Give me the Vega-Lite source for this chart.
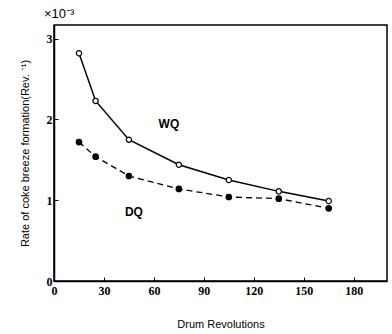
{
  "$schema": "https://vega.github.io/schema/vega-lite/v6.json",
  "autosize": "none",
  "width": 333,
  "height": 256,
  "padding": {"left": 54, "top": 25, "right": 5, "bottom": 53},
  "background": "white",
  "config": {
    "view": {"stroke": "black", "strokeWidth": 1.5},
    "axis": {"domainColor": "black", "domainWidth": 1.5, "tickColor": "black", "labelColor": "black", "titleColor": "black", "grid": false}
  },
  "title": {"text": "×10⁻³", "anchor": "start", "frame": "group", "dx": -10, "offset": 4, "fontSize": 13, "font": "Liberation Sans", "fontWeight": "normal", "color": "black"},
  "data": {"values": [
    {"rev": 15, "rate": 2.82, "series": "WQ"},
    {"rev": 25, "rate": 2.23, "series": "WQ"},
    {"rev": 45, "rate": 1.75, "series": "WQ"},
    {"rev": 75, "rate": 1.44, "series": "WQ"},
    {"rev": 105, "rate": 1.25, "series": "WQ"},
    {"rev": 135, "rate": 1.11, "series": "WQ"},
    {"rev": 165, "rate": 0.99, "series": "WQ"},
    {"rev": 15, "rate": 1.72, "series": "DQ"},
    {"rev": 25, "rate": 1.54, "series": "DQ"},
    {"rev": 45, "rate": 1.30, "series": "DQ"},
    {"rev": 75, "rate": 1.14, "series": "DQ"},
    {"rev": 105, "rate": 1.04, "series": "DQ"},
    {"rev": 135, "rate": 1.02, "series": "DQ"},
    {"rev": 165, "rate": 0.90, "series": "DQ"}
  ]},
  "encoding": {
    "x": {"field": "rev", "type": "quantitative", "scale": {"domain": [0, 200], "nice": false},
      "axis": {"values": [0, 30, 60, 90, 120, 150, 180], "title": "Drum  Revolutions", "titleFont": "Liberation Sans", "titleFontSize": 11, "titleFontWeight": "normal", "titlePadding": 22, "labelFont": "Liberation Serif", "labelFontWeight": "bold", "labelFontSize": 12, "labelPadding": 8, "tickSize": -4, "labelFlush": false}},
    "y": {"field": "rate", "type": "quantitative", "scale": {"domain": [0, 3.17], "nice": false},
      "axis": {"values": [0, 1, 2, 3], "title": "Rate  of  coke  breeze  formation(Rev. ⁻¹)", "titleFont": "Liberation Sans", "titleFontSize": 11, "titleFontWeight": "normal", "titlePadding": 16, "labelFont": "Liberation Serif", "labelFontWeight": "bold", "labelFontSize": 12, "labelPadding": 6, "tickSize": -4}}
  },
  "layer": [
    {"transform": [{"filter": "datum.series === 'WQ'"}], "mark": {"type": "line", "color": "black", "strokeWidth": 1.5}},
    {"transform": [{"filter": "datum.series === 'DQ'"}], "mark": {"type": "line", "color": "black", "strokeWidth": 1.3, "strokeDash": [6, 4]}},
    {"transform": [{"filter": "datum.series === 'WQ'"}], "mark": {"type": "point", "shape": "circle", "filled": true, "fill": "white", "stroke": "black", "strokeWidth": 1.2, "size": 28, "opacity": 1}},
    {"transform": [{"filter": "datum.series === 'DQ'"}], "mark": {"type": "point", "shape": "circle", "filled": true, "fill": "black", "stroke": "black", "size": 22, "opacity": 1}},
    {"data": {"values": [{"rev": 69, "rate": 1.95, "label": "WQ"}, {"rev": 48, "rate": 0.85, "label": "DQ"}]},
     "mark": {"type": "text", "font": "Liberation Sans", "fontSize": 12, "fontWeight": "bold", "color": "black"},
     "encoding": {"text": {"field": "label"}}}
  ]
}
